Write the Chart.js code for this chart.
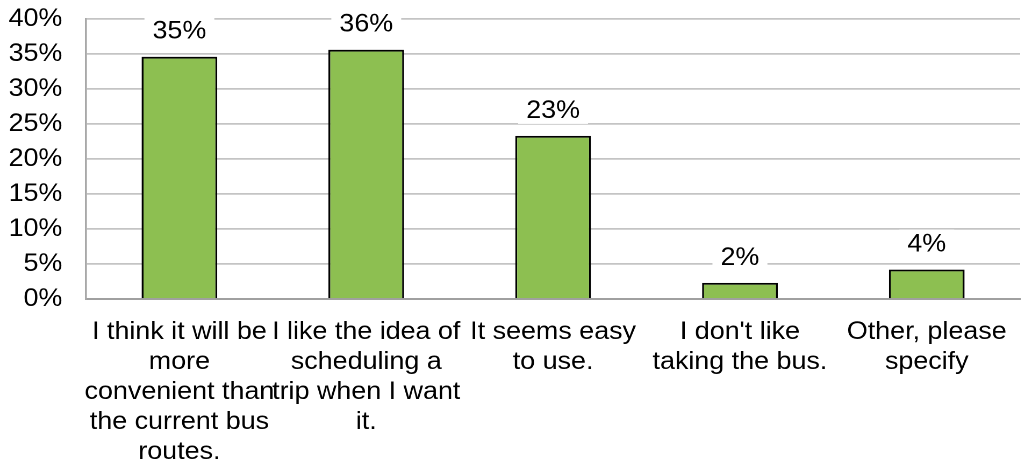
<!DOCTYPE html>
<html>
<head>
<meta charset="utf-8">
<script src="https://cdn.jsdelivr.net/npm/chart.js@4/dist/chart.umd.min.js"></script>
<style>
  html, body { margin: 0; padding: 0; background: #fff; overflow: hidden; }
  /* drawn slightly narrower and widened, for the broad lettering */
  #wrap {
    width: 950px; height: 465px; position: relative;
    transform: scaleX(1.075); transform-origin: 0 0;
  }
</style>
</head>
<body>
<div id="wrap"><canvas id="c"></canvas></div>
<script>
// ── data ─────────────────────────────────────────────
const CATEGORIES = [
  ["I think it will be", "more", "convenient than", "the current bus", "routes."],
  ["I like the idea of", "scheduling a", "trip when I want", "it."],
  ["It seems easy", "to use."],
  ["I don't like", "taking the bus."],
  ["Other, please", "specify"],
];
const SHARES = [34.6, 35.6, 23.3, 2.3, 4.2];
const Y_TICKS = [0, 5, 10, 15, 20, 25, 30, 35, 40];

const FONT = "'Liberation Sans', Arial, sans-serif";
const FSIZE = 25;
const GREEN = "#8DBF51";

Chart.defaults.font.family = FONT;
Chart.defaults.color = "#000";

// value labels on white boxes above each bar
const valueLabels = {
  id: "valueLabels",
  afterDatasetsDraw(chart) {
    const ctx = chart.ctx;
    const meta = chart.getDatasetMeta(0);
    ctx.save();
    ctx.font = FSIZE + "px " + FONT;
    ctx.textAlign = "center";
    ctx.textBaseline = "middle";
    meta.data.forEach((bar, i) => {
      const txt = Math.round(SHARES[i]) + "%";
      const w = ctx.measureText(txt).width + 15;
      const cy = bar.y - 26;
      ctx.fillStyle = "#fff";
      ctx.fillRect(bar.x - w / 2, cy - 14, w, 28);
      ctx.fillStyle = "#000";
      ctx.fillText(txt, bar.x, cy + 1);
    });
    ctx.restore();
  },
};

new Chart(document.getElementById("c"), {
  type: "bar",
  data: {
    labels: CATEGORIES,
    datasets: [{
      data: SHARES,
      backgroundColor: GREEN,
      borderColor: "#000",
      borderWidth: 1.8,
      borderSkipped: "bottom",
      barPercentage: 0.405,
      categoryPercentage: 1,
    }],
  },
  options: {
    responsive: true,
    maintainAspectRatio: false,
    animation: false,
    devicePixelRatio: 2,
    layout: { padding: { top: 19, right: 1, bottom: 0, left: 0 } },
    plugins: { legend: { display: false }, tooltip: { enabled: false } },
    scales: {
      x: {
        grid: { display: false, drawTicks: false },
        border: { color: "#a0a0a0", width: 2 },
        ticks: {
          color: "#000",
          font: { size: FSIZE, lineHeight: 1.2 },
          maxRotation: 0,
          autoSkip: false,
          padding: 18,
        },
        afterFit: (s) => { s.height = 166; s.paddingLeft = 0; s.paddingRight = 0; },
      },
      y: {
        min: 0,
        max: 40,
        afterBuildTicks: (axis) => { axis.ticks = Y_TICKS.map((v) => ({ value: v })); },
        grid: { color: "#c4c4c4", lineWidth: 1.8, drawTicks: false },
        border: { color: "#a8a8a8", width: 1.8 },
        ticks: {
          color: "#000",
          font: { size: FSIZE },
          padding: 22,
          autoSkip: false,
          callback: (v) => v + "%",
        },
        afterFit: (s) => { s.width = 80; s.paddingTop = 0; s.paddingBottom = 0; },
      },
    },
  },
  plugins: [valueLabels],
});
</script>
</body>
</html>
